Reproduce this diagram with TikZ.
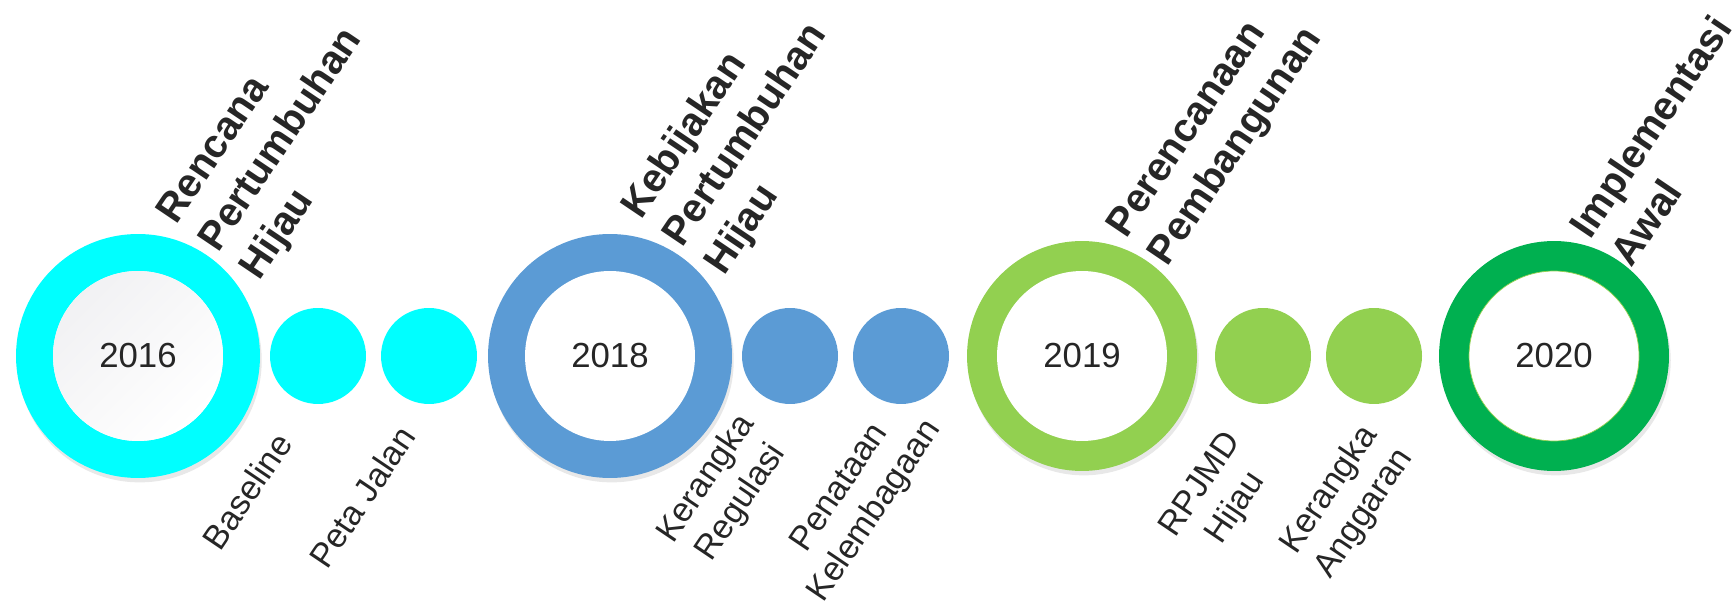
\documentclass[tikz,border=0pt]{standalone}
\usepackage{fontspec}
\setmainfont{Liberation Sans}
\usetikzlibrary{calc, shadows}

\definecolor{tlCyan}{HTML}{00FFFF}
\definecolor{tlBlue}{HTML}{5B9BD5}
\definecolor{tlLime}{HTML}{92D050}
\definecolor{tlGreen}{HTML}{00B050}
\definecolor{tlText}{HTML}{262626}

\begin{document}
\begin{tikzpicture}[x=0.02cm, y=0.02cm,
    ringbig/.style={circle, fill=#1, inner sep=0pt,
        drop shadow={shadow xshift=1pt, shadow yshift=-2.5pt, opacity=0.18}},
    ringhole/.style={circle, fill=white, inner sep=0pt, minimum size=3.4cm,
        text=tlText, font=\fontsize{19.8}{24}\selectfont},
    subdot/.style={circle, fill=#1, inner sep=0pt, minimum size=1.92cm},
    phasetitle/.style={rotate=56, anchor=west, align=left, inner sep=0pt,
        text=tlText, font=\bfseries\fontsize{22.8}{28.5}\selectfont},
    subtext/.style={rotate=56, anchor=center, align=center, inner sep=0pt,
        text=tlText, font=\fontsize{19.4}{24}\selectfont}]

    % --- 1. Canvas (1 unit = 1 px of the 1733 x 607 frame) ---
    \useasboundingbox (0,0) rectangle (1733,-607);

    % --- 2. Year rings ---
    \node[ringbig=tlCyan,  minimum size=4.88cm] (r16) at (138,-356) {};
    \node[ringbig=tlBlue,  minimum size=4.88cm] (r18) at (610,-356) {};
    \node[ringbig=tlLime,  minimum size=4.6cm]  (r19) at (1082,-356) {};
    \node[ringbig=tlGreen, minimum size=4.6cm]  (r20) at (1554,-356) {};

    % white centres, the first one slightly shaded
    \node[ringhole, top color=blue!8!gray!10, bottom color=white, shading angle=45] (y16) at (r16) {2016};
    \node[ringhole] (y18) at (r18) {2018};
    \node[ringhole] (y19) at (r19) {2019};
    \node[ringhole, draw=tlLime, line width=0.4pt] (y20) at (r20) {2020};

    % --- 3. Step dots between the rings ---
    \node[subdot=tlCyan] (s16a) at (318,-356) {};
    \node[subdot=tlCyan] (s16b) at (429,-356) {};
    \node[subdot=tlBlue] (s18a) at (790,-356) {};
    \node[subdot=tlBlue] (s18b) at (901,-356) {};
    \node[subdot=tlLime] (s19a) at (1263,-356) {};
    \node[subdot=tlLime] (s19b) at (1374,-356) {};

    % --- 4. Phase titles (above the rings) ---
    \node[phasetitle] (t16) at ($(r16)+(72,108)$) {Rencana\\Pertumbuhan\\Hijau};
    \node[phasetitle] (t18) at ($(r18)+(64,113)$) {Kebijakan\\Pertumbuhan\\Hijau};
    \node[phasetitle] (t19) at ($(r19)+(57,108)$) {Perencanaan\\Pembangunan};
    \node[phasetitle] (t20) at ($(r20)+(45,109)$) {Implementasi\\Awal};

    % --- 5. Step labels (below the dots) ---
    \node[subtext] (l16a) at ($(s16a)+(-71,-135)$) {Baseline};
    \node[subtext] (l16b) at ($(s16b)+(-67,-141)$) {Peta Jalan};
    \node[subtext] (l18a) at ($(s18a)+(-66,-135)$) {Kerangka\\Regulasi};
    \node[subtext] (l18b) at ($(s18b)+(-43,-144)$) {Penataan\\Kelembagaan};
    \node[subtext] (l19a) at ($(s19a)+(-44,-141)$) {RPJMD\\Hijau};
    \node[subtext] (l19b) at ($(s19b)+(-27,-146)$) {Kerangka\\Anggaran};

\end{tikzpicture}
\end{document}
